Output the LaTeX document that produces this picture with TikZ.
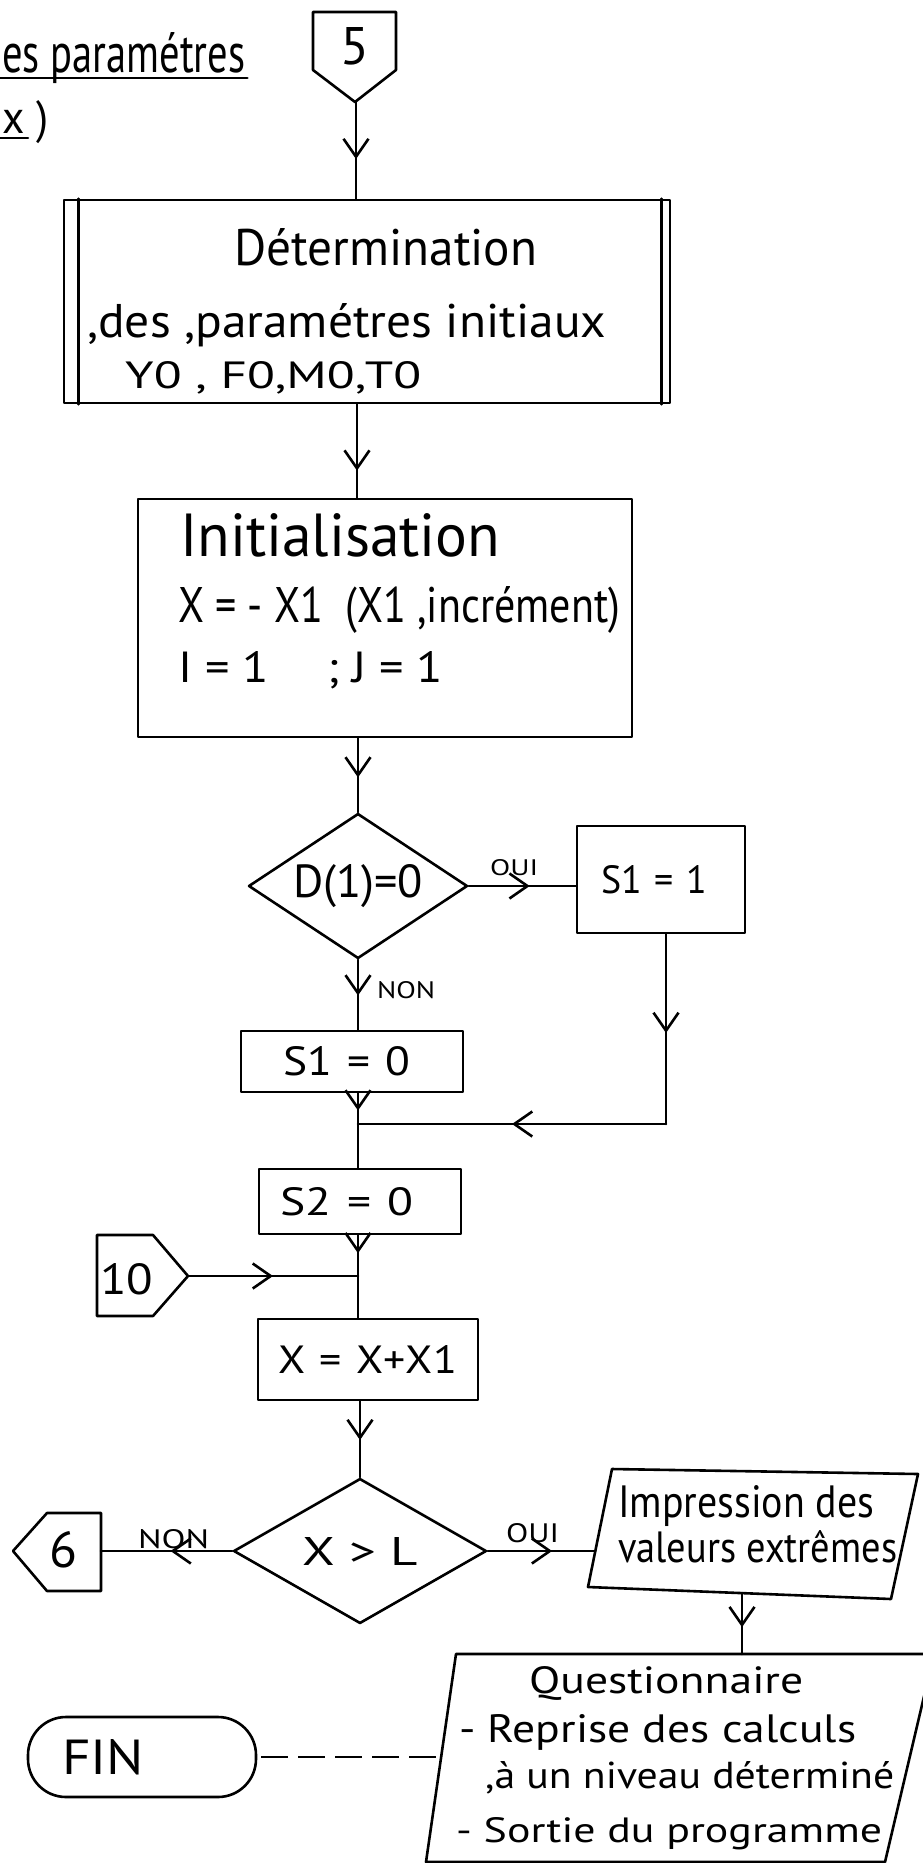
\documentclass[tikz,border=0pt]{standalone}
\usepackage{fontspec}
\setmainfont{PT Sans}
\usetikzlibrary{arrows.meta,decorations.markings,shapes.geometric}
\newcommand\fitwh[3]{\resizebox{#1}{#2}{#3}}
\newcommand\fith[2]{\resizebox{!}{#1}{#2}}
\begin{document}
\begin{tikzpicture}[x=1pt,y=-1pt,
  every node/.style={font=\fontsize{40pt}{48pt}\selectfont},
  ln/.style={line width=2.6pt,line cap=round,line join=round},
  box/.style={ln,draw,rectangle,inner sep=0pt,align=left},
  dia/.style={ln,draw,diamond,aspect=1.5,inner sep=0pt},
  txt/.style={inner sep=0pt,anchor=base west},
  midarrow/.style={postaction={decorate,decoration={markings,mark=at position #1 with {\arrow{Straight Barb[length=18pt,width=25pt]}}}}},
]
\fill[white] (0,0) rectangle (922,1863);
\useasboundingbox (0,0) rectangle (922,1863);

% top-left heading
\node[txt] (ta) at (2,72) {\fitwh{243pt}{40pt}{es paramétres}};
\draw[ln] ([shift={(-2,6)}]ta.base west) -- ([shift={(2,6)}]ta.base east);
\node[txt] (tb) at (2,133) {\fitwh{46pt}{33pt}{x )}};
\draw[ln] ([shift={(-2,5)}]tb.base west) -- ++(28,0);

% connector 5
\draw[ln] (313,12) -- (396,12) -- (396,70) -- (355,102) -- (313,70) -- cycle;
\coordinate (p5) at (356,102);
\node (n5) at (355,46) {\fith{37pt}{5}};
\coordinate (ax) at (357,0);

% Determination box
\node[box,minimum width=606pt,minimum height=203pt] (det) at (367,301.5) {};
\draw[ln] ([xshift=16pt]det.north west) -- ([xshift=16pt]det.south west);
\draw[ln] ([xshift=-10pt]det.north east) -- ([xshift=-10pt]det.south east);
\node[txt] (det1) at (234,265) {\fitwh{303pt}{37pt}{Détermination}};
\node[txt] (det2) at (87,337) {\fitwh{519pt}{34pt}{,des ,paramétres initiaux}};
\node[txt] (det3) at (125,388) {\fitwh{296pt}{27pt}{Y0 , F0,M0,T0}};
\draw[ln,midarrow=0.59] (p5) -- (p5 |- det.north);

% Initialisation box
\node[box,minimum width=494pt,minimum height=238pt] (init) at (385,618) {};
\node[txt] (in1) at (180,556) {\fitwh{320pt}{43pt}{Initialisation}};
\node[txt] (in2) at (178,622) {\fitwh{442pt}{36pt}{X = - X1 \ (X1 ,incrément)}};
\node[txt] (in3) at (178,682) {\fitwh{265pt}{31pt}{I = 1\hspace{1.2em}; J = 1}};
\draw[ln,midarrow=0.71] (det.south -| ax) -- (init.north -| ax);

% decision D(1)=0
\node[dia,minimum width=219pt,minimum height=145pt] (d1) at (358,886) {\fitwh{130pt}{33pt}{D(1)=0}};
\draw[ln,midarrow=0.53] (init.south -| d1.north) -- (d1.north);

\node[box,minimum width=168pt,minimum height=107pt,text width=120pt] (s11) at (661,879.5) {\fitwh{106pt}{28pt}{S1 = 1}};
\draw[ln,midarrow=0.57] (d1.east) -- (d1.east -| s11.west);
\node[txt] (oui1) at (490,875) {\fitwh{48pt}{16pt}{OUI}};

\node[box,minimum width=222pt,minimum height=61pt,text width=138pt] (s10) at (352,1061.5) {\fitwh{127pt}{29pt}{S1 = 0}};
\draw[ln,midarrow=0.51] (d1.south) -- (s10.north -| d1.south);
\node[txt] (non1) at (377,998) {\fitwh{58pt}{17pt}{NON}};

\coordinate (k1) at (666,1124);
\coordinate (m1) at (358,1124);
\draw[ln,midarrow=0.52] (k1 |- s11.south) -- (k1);
\draw[ln,midarrow=0.5] (k1) -- (m1);
\draw[ln,midarrow=0.56] (s10.south -| m1) -- (m1);

\node[box,minimum width=202pt,minimum height=65pt,text width=160pt] (s20) at (360,1201.5) {\fitwh{133pt}{28pt}{S2 = 0}};
\draw[ln] (m1) -- (s20.north -| m1);

% connector 10
\draw[ln] (97,1235) -- (153,1235) -- (188,1276) -- (153,1316) -- (97,1316) -- cycle;
\coordinate (p10) at (188,1276);
\node[txt] (n10) at (100,1294) {\fitwh{53pt}{31pt}{10}};
\coordinate (m2) at (358,1276);
\draw[ln,midarrow=0.44] (s20.south -| m2) -- (m2);
\draw[ln,midarrow=0.5] (p10) -- (m2);

\node[box,minimum width=220pt,minimum height=81pt,text width=180pt] (xx) at (368,1359.5) {\fitwh{179pt}{28pt}{X = X+X1}};
\draw[ln] (m2) -- (xx.north -| m2);

% decision X > L
\node[dia,minimum width=253pt,minimum height=145pt] (d2) at (360,1551) {\fitwh{115pt}{28pt}{X > L}};
\draw[ln,midarrow=0.51] (xx.south -| d2.north) -- (d2.north);

% connector 6
\draw[ln] (13,1551) -- (47,1513) -- (101,1513) -- (101,1591) -- (47,1591) -- cycle;
\coordinate (p6) at (101,1551);
\node[txt] (n6) at (49,1567) {\fitwh{28pt}{36pt}{6}};
\draw[ln,midarrow=0.47] (d2.west) -- (p6);
\node[txt] (non2) at (138,1548) {\fitwh{71pt}{19pt}{NON}};

% Impression
\draw[ln] (612,1469) -- (918,1474) -- (891,1599) -- (588,1587) -- cycle;
\coordinate (impw) at (595,1551);
\coordinate (imps) at (742,1593);
\node[txt] (im1) at (618,1517) {\fitwh{256pt}{32pt}{Impression des}};
\node[txt] (im2) at (618,1562) {\fitwh{279pt}{32pt}{valeurs extrêmes}};
\draw[ln,midarrow=0.6] (d2.east) -- (impw);
\node[txt] (oui2) at (506,1542) {\fitwh{53pt}{19pt}{OUI}};

% Questionnaire
\draw[ln] (456,1654) -- (934,1654) -- (885,1862) -- (426,1862) -- cycle;
\coordinate (qn) at (742,1654);
\coordinate (qw) at (441,1757);
\node[txt] (q1) at (529,1693) {\fitwh{274pt}{27pt}{Questionnaire}};
\node[txt] (q2) at (459,1742) {\fitwh{397pt}{28pt}{- Reprise des calculs}};
\node[txt] (q3) at (485,1788) {\fitwh{409pt}{27pt}{,à un niveau déterminé}};
\node[txt] (q4) at (456,1842) {\fitwh{426pt}{25pt}{- Sortie du programme}};
\draw[ln,midarrow=0.56] (imps) -- (qn);

% FIN
\node[ln,draw,rectangle,rounded corners=38pt,minimum width=228pt,minimum height=80pt,text width=160pt,align=left,inner sep=0pt] (fin) at (142,1757) {\fitwh{82pt}{35pt}{FIN}};
\draw[ln,line cap=butt,dash pattern=on 27pt off 10pt] ([xshift=4pt]fin.east) -- (qw);
\end{tikzpicture}
\end{document}
